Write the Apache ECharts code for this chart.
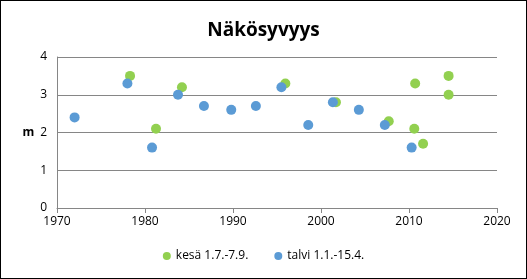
<!DOCTYPE html>
<html><head><meta charset="utf-8">
<script src="https://cdn.jsdelivr.net/npm/echarts@6/dist/echarts.min.js"></script>
<style>html,body{margin:0;padding:0;background:#fff}#c{width:527px;height:279px;box-sizing:border-box;border:1px solid #000}</style>
</head><body><div id="c"></div>
<script>
const title = "Näkösyvyys";
const summerName = "kesä 1.7.-7.9.";
const winterName = "talvi 1.1.-15.4.";
const summerYears = [1978.3, 1981.25, 1984.2, 1995.95, 2001.7, 2007.7, 2010.7, 2010.6, 2011.6, 2014.5, 2014.5];
const summerValues = [3.5, 2.1, 3.2, 3.3, 2.8, 2.3, 3.3, 2.1, 1.7, 3.5, 3.0];
const winterYears = [1972.0, 1978.0, 1980.8, 1983.75, 1986.7, 1989.8, 1992.6, 1995.5, 1998.55, 2001.35, 2004.3, 2007.25, 2010.3];
const winterValues = [2.4, 3.3, 1.6, 3.0, 2.7, 2.6, 2.7, 3.2, 2.2, 2.8, 2.6, 2.2, 1.6];
const font = "'Open Sans', 'Liberation Sans', sans-serif";
const chart = echarts.init(document.getElementById('c'));
chart.setOption({
  animation: false,
  title: {text: title, left: 'center', top: 15, textStyle: {fontFamily: font, fontSize: 19, fontWeight: 'bold', color: '#000'}},
  grid: {left: 56, right: 29, top: 56, bottom: 70},
  legend: {bottom: 11, left: 'center', icon: 'circle', itemWidth: 8, itemHeight: 8, itemGap: 26,
    textStyle: {fontFamily: font, fontSize: 12, color: '#000'}, data: [summerName, winterName]},
  xAxis: {type: 'value', min: 1970, max: 2020, interval: 10,
    axisLine: {lineStyle: {color: '#868686'}}, axisTick: {show: true, length: 5, lineStyle: {color: '#868686'}},
    axisLabel: {fontFamily: font, fontSize: 12, color: '#000', margin: 8, formatter: v => String(v)}, splitLine: {show: false}},
  yAxis: {type: 'value', min: 0, max: 4, interval: 1, name: 'm', nameLocation: 'middle', nameGap: 22, nameRotate: 0,
    nameTextStyle: {fontFamily: font, fontSize: 12, fontWeight: 'bold', color: '#000'},
    axisLine: {show: true, lineStyle: {color: '#868686'}}, axisTick: {show: false},
    axisLabel: {fontFamily: font, fontSize: 12, color: '#000', margin: 10},
    splitLine: {lineStyle: {color: '#868686'}}},
  series: [
    {name: summerName, type: 'scatter', symbolSize: 10, itemStyle: {color: '#92D050', opacity: 1},
     data: summerYears.map((y, i) => [y, summerValues[i]]), z: 2},
    {name: winterName, type: 'scatter', symbolSize: 10, itemStyle: {color: '#5B9BD5', opacity: 1},
     data: winterYears.map((y, i) => [y, winterValues[i]]), z: 3}
  ]
});
</script></body></html>
